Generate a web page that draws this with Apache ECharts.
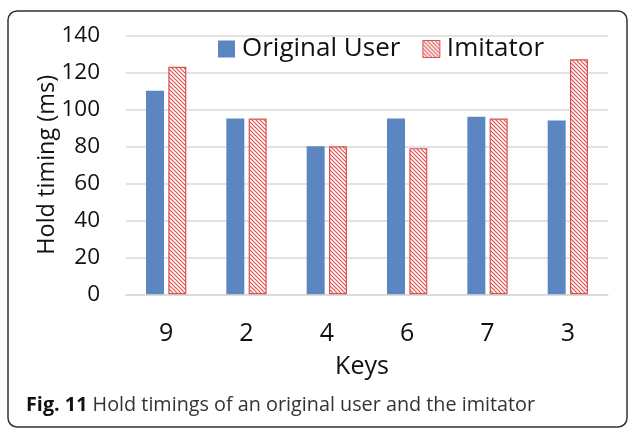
<!DOCTYPE html>
<html><head><meta charset="utf-8">
<script src="https://cdn.jsdelivr.net/npm/echarts@6/dist/echarts.min.js"></script>
<style>html,body{margin:0;padding:0;background:#fff}#c{width:630px;height:428px}</style>
</head><body><div id="c"></div>
<script>
var categories = ['9', '2', '4', '6', '7', '3'];
var originalUser = [110, 95, 80, 95, 96, 94];
var imitator = [123, 95, 80, 79, 95, 127];
var yTicks = [0, 20, 40, 60, 80, 100, 120, 140];

var RED = '#d9534f', BLUE = '#5b86c1';
function hatch() {
  var s = 4, c = document.createElement('canvas');
  c.width = s; c.height = s;
  var g = c.getContext('2d');
  g.fillStyle = '#fff'; g.fillRect(0, 0, s, s);
  g.strokeStyle = RED; g.lineWidth = 1.2;
  g.beginPath();
  g.moveTo(0, 0); g.lineTo(s, s);
  g.moveTo(-s, 0); g.lineTo(s, 2 * s);
  g.moveTo(0, -s); g.lineTo(2 * s, s);
  g.stroke();
  return c;
}
var pat = { image: hatch(), repeat: 'repeat' };
var FONT = '"Open Sans", sans-serif';
var chart = echarts.init(document.getElementById('c'), null, { renderer: 'canvas' });
chart.setOption({
  animation: false,
  backgroundColor: '#fff',
  textStyle: { fontFamily: FONT },
  grid: { left: 126, right: 22, top: 35.3, bottom: 133.7 },
  legend: {
    left: 218, top: 36, padding: 0, itemWidth: 17, itemHeight: 17, itemGap: 22,
    textStyle: { fontSize: 26, color: '#111', fontFamily: FONT, padding: [0, 0, 0, 2] },
    data: [
      { name: 'Original User', icon: 'rect', itemStyle: { color: BLUE } },
      { name: 'Imitator', icon: 'rect', itemStyle: { color: pat, borderColor: RED, borderWidth: 1 } }
    ]
  },
  xAxis: {
    type: 'category', data: categories,
    name: 'Keys', nameLocation: 'middle', nameGap: 60, nameMoveOverlap: false,
    nameTextStyle: { fontSize: 25, color: '#111', fontFamily: FONT, padding: [0, 10, 0, 0] },
    axisLine: { lineStyle: { color: '#d9d9d9', width: 1.5 } },
    axisTick: { show: false },
    axisLabel: { fontSize: 25, color: '#111', margin: 27, fontFamily: FONT }
  },
  yAxis: {
    type: 'value', min: yTicks[0], max: yTicks[yTicks.length - 1], interval: 20,
    name: 'Hold timing (ms)', nameLocation: 'middle', nameGap: 67, nameMoveOverlap: false,
    nameTextStyle: { fontSize: 23.5, color: '#111', fontFamily: FONT },
    axisLine: { show: false }, axisTick: { show: false },
    axisLabel: { fontSize: 22.5, color: '#111', margin: 26, fontFamily: FONT },
    splitLine: { lineStyle: { color: '#d9d9d9', width: 1.5 } }
  },
  series: [
    { name: 'Original User', type: 'bar', data: originalUser, barWidth: 18, barGap: '24%',
      itemStyle: { color: BLUE } },
    { name: 'Imitator', type: 'bar', data: imitator, barWidth: 18,
      itemStyle: { color: pat, borderColor: RED, borderWidth: 1.2 } }
  ],
  graphic: [
    { type: 'rect', shape: { x: 8, y: 11, width: 619, height: 416, r: 9 },
      style: { fill: 'none', stroke: '#333', lineWidth: 1.5 }, z: -1 },
    { type: 'text', left: 26, top: 395,
      style: { text: '{b|Fig. 11} Hold timings of an original user and the imitator',
        font: '19.8px ' + FONT, fill: '#333',
        rich: { b: { fontWeight: 'bold', fontSize: 19.8, fontFamily: FONT, fill: '#111' } } } }
  ]
});
</script></body></html>
